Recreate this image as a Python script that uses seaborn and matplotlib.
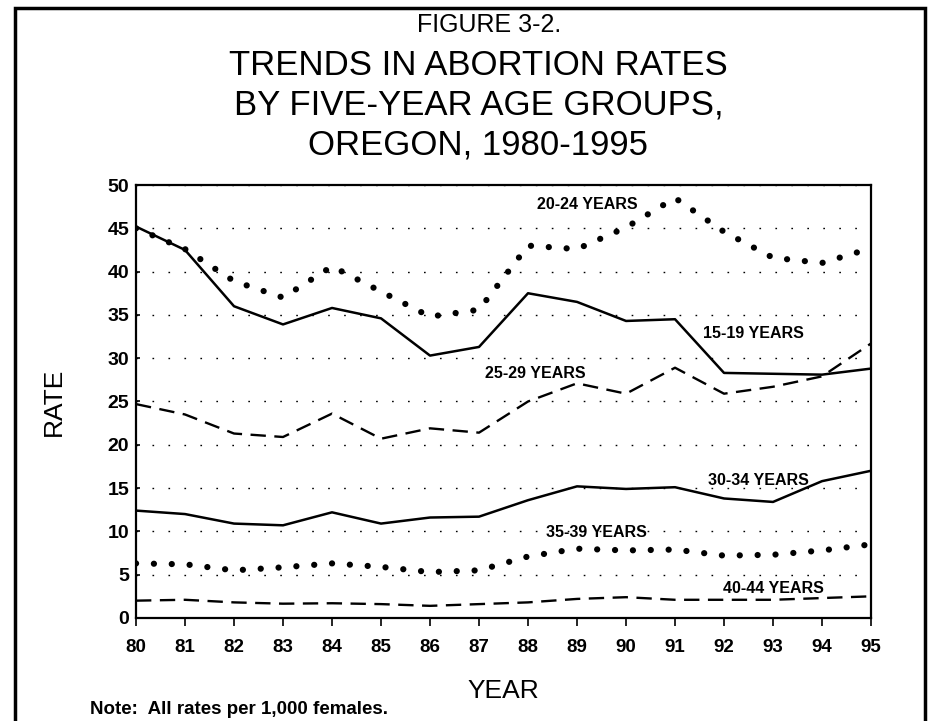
import seaborn as sns
import matplotlib.pyplot as plt
import matplotlib.patches as patches
import numpy as np
import pandas as pd

# data
years = list(range(80, 96))
rate_15_19 = [45.2, 42.5, 36.0, 33.9, 35.8, 34.6, 30.3, 31.3, 37.5, 36.5, 34.3, 34.5, 28.3, 28.2, 28.1, 28.8]
rate_20_24 = [45.0, 42.6, 38.9, 37.0, 40.6, 37.7, 34.8, 35.6, 43.0, 42.6, 45.1, 48.5, 44.6, 41.6, 41.0, 42.7]
rate_25_29 = [24.7, 23.5, 21.3, 20.9, 23.6, 20.7, 21.9, 21.4, 25.0, 27.1, 25.9, 28.9, 25.9, 26.7, 27.9, 31.7]
rate_30_34 = [12.4, 12.0, 10.9, 10.7, 12.2, 10.9, 11.6, 11.7, 13.6, 15.2, 14.9, 15.1, 13.8, 13.4, 15.8, 17.0]
rate_35_39 = [6.3, 6.2, 5.5, 5.85, 6.3, 5.9, 5.3, 5.5, 7.1, 8.0, 7.8, 7.9, 7.2, 7.3, 7.8, 8.5]
rate_40_44 = [2.0, 2.1, 1.8, 1.65, 1.7, 1.6, 1.4, 1.6, 1.8, 2.2, 2.4, 2.1, 2.1, 2.1, 2.3, 2.5]
yticks = list(range(0, 55, 5))

sns.set_style("white")
plt.rcParams['font.family'] = ['Liberation Sans', 'DejaVu Sans']
plt.rcParams['text.color'] = 'black'
plt.rcParams['axes.labelcolor'] = 'black'
plt.rcParams['xtick.color'] = 'black'
plt.rcParams['ytick.color'] = 'black'

fig = plt.figure(figsize=(9.29, 7.21), dpi=100)
ax = fig.add_axes([0.1464, 0.1429, 0.7912, 0.6005])

solid = dict(color='black', lw=1.8)
dashed = dict(color='black', lw=1.7, linestyle=(0, (6.5, 3.6)))
dotted = dict(color='black', lw=4.5, linestyle=(0, (0.01, 2.85)), dash_capstyle='round')

sns.lineplot(x=years, y=rate_15_19, ax=ax, **solid)
sns.lineplot(x=years, y=rate_20_24, ax=ax, **dotted)
sns.lineplot(x=years, y=rate_25_29, ax=ax, **dashed)
sns.lineplot(x=years, y=rate_30_34, ax=ax, **solid)
sns.lineplot(x=years, y=rate_35_39, ax=ax, **dotted)
sns.lineplot(x=years, y=rate_40_44, ax=ax, **dashed)

ax.set_xlim(80, 95)
ax.set_ylim(0, 50)
ax.set_xticks(years)
ax.set_yticks(yticks)
ax.yaxis.grid(True, color='black', lw=1.0, linestyle=(0, (1.2, 10.3)))
ax.xaxis.grid(False)
for s in ax.spines.values():
    s.set_color('black')
    s.set_linewidth(1.6)
ax.tick_params(axis='x', direction='out', length=6, width=1.2, pad=9, labelsize=13.5)
ax.tick_params(axis='y', direction='in', length=3, width=1.2, pad=5, labelsize=14)
ax.tick_params(left=True, bottom=True)
for lab in ax.get_xticklabels() + ax.get_yticklabels():
    lab.set_fontweight('bold')

# series labels
lab_kw = dict(fontsize=11.5, fontweight='bold', ha='center', va='center')
ax.text(89.2, 47.8, '20-24 YEARS', **lab_kw)
ax.text(92.6, 32.9, '15-19 YEARS', **lab_kw)
ax.text(88.15, 28.2, '25-29 YEARS', **lab_kw)
ax.text(92.7, 15.9, '30-34 YEARS', **lab_kw)
ax.text(89.4, 9.85, '35-39 YEARS', **lab_kw)
ax.text(93.0, 3.35, '40-44 YEARS', **lab_kw)

ax.set_xlabel('YEAR', fontsize=19, labelpad=17)
ax.set_ylabel('RATE', fontsize=19, labelpad=30)

fig.text(0.526, 0.966, 'FIGURE 3-2.', ha='center', va='center', fontsize=18)
fig.text(0.515, 0.9098, 'TRENDS IN ABORTION RATES', ha='center', va='center', fontsize=25)
fig.text(0.515, 0.8544, 'BY FIVE-YEAR AGE GROUPS,', ha='center', va='center', fontsize=25)
fig.text(0.515, 0.7989, 'OREGON, 1980-1995', ha='center', va='center', fontsize=25)
fig.text(0.097, 0.0166, 'Note:  All rates per 1,000 females.', ha='left', va='center',
         fontsize=13.5, fontweight='bold')

# page border
fig.patches.append(patches.Rectangle((0.0165, -0.02), 0.9795, 1.0089, transform=fig.transFigure,
                                     fill=False, edgecolor='black', lw=2.5, clip_on=False))

plt.savefig('out.png', dpi=100)
